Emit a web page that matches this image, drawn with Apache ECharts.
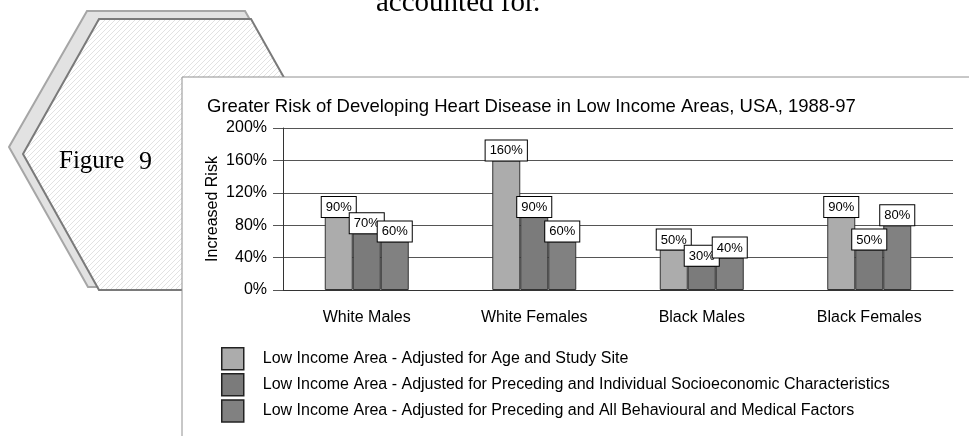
<!DOCTYPE html>
<html>
<head>
<meta charset="utf-8">
<script src="https://cdn.jsdelivr.net/npm/echarts@6/dist/echarts.min.js"></script>
<style>
  html, body { margin: 0; padding: 0; background: #fff; }
  #chart { width: 969px; height: 436px; }
</style>
</head>
<body>
<div id="chart"></div>
<script>
// categories on the x axis
const categories = ['White Males', 'White Females', 'Black Males', 'Black Females'];
// legend / series names
const seriesNames = [
  'Low Income Area - Adjusted for Age and Study Site',
  'Low Income Area - Adjusted for Preceding and Individual Socioeconomic Characteristics',
  'Low Income Area - Adjusted for Preceding and All Behavioural and Medical Factors'
];
// increased risk, percent
const ageStudySite = [90, 160, 50, 90];
const socioeconomic = [70, 90, 30, 50];
const behavioural = [60, 60, 40, 80];
// y axis range
const yMin = 0, yMax = 200, yStep = 40;

const colors = ['#acacac', '#7b7b7b', '#818181'];

// diagonal hatch for the hexagon
const hatch = document.createElement('canvas');
hatch.width = 5; hatch.height = 5;
const hc = hatch.getContext('2d');
hc.fillStyle = '#fff';
hc.fillRect(0, 0, 5, 5);
hc.strokeStyle = '#dadada';
hc.lineWidth = 0.8;
hc.beginPath();
hc.moveTo(-1, 6); hc.lineTo(6, -1);
hc.moveTo(-1, 1); hc.lineTo(1, -1);
hc.moveTo(4, 6); hc.lineTo(6, 4);
hc.stroke();

const chart = echarts.init(document.getElementById('chart'), null, { renderer: 'canvas' });

const labelStyle = {
  show: true,
  position: 'top',
  distance: 0,
  formatter: '{c}%',
  color: '#000',
  fontSize: 13,
  fontFamily: 'Liberation Sans, Arial, sans-serif',
  backgroundColor: '#fff',
  borderColor: '#000',
  borderWidth: 1,
  padding: [4, 4, 3, 4]
};

function makeSeries(name, data, color) {
  return {
    name: name,
    type: 'bar',
    data: data,
    barWidth: 28,
    barGap: '0%',
    itemStyle: { color: color, borderColor: '#333', borderWidth: 1 },
    label: labelStyle,
    emphasis: { disabled: true }
  };
}

const option = {
  animation: false,
  backgroundColor: '#fff',
  textStyle: { fontFamily: 'Liberation Sans, Arial, sans-serif' },
  title: {
    text: 'Greater Risk of Developing Heart Disease in Low Income Areas, USA, 1988-97',
    left: 207,
    top: 97,
    padding: 0,
    textStyle: { fontSize: 18.5, fontWeight: 'normal', color: '#000' }
  },
  graphic: [
    { // shadow hexagon
      type: 'polygon', z: -30,
      shape: { points: [[87, 11], [245, 11], [323, 147], [245, 287], [88, 287], [9, 147]] },
      style: { fill: '#e2e2e2', stroke: '#a6a6a6', lineWidth: 2 }
    },
    { // front hexagon
      type: 'polygon', z: -29,
      shape: { points: [[99, 19], [251, 19], [327, 154], [251, 290], [99, 290], [23, 154]] },
      style: { fill: { image: hatch, repeat: 'repeat' }, stroke: '#7a7a7a', lineWidth: 2 }
    },
    {
      type: 'text', z: -28, left: 59, top: 149,
      style: { text: 'Figure', font: '25px "Liberation Serif", serif', fill: '#000' }
    },
    {
      type: 'text', z: -28, left: 139, top: 149,
      style: { text: '9', font: '26px "Liberation Serif", serif', fill: '#000' }
    },
    {
      type: 'text', z: -28, left: 376, top: -11,
      style: { text: 'accounted for.', font: '29px "Liberation Serif", serif', fill: '#000' }
    },
    { // chart panel
      type: 'rect', z: -20,
      shape: { x: 182, y: 77, width: 820, height: 400 },
      style: { fill: '#fff', stroke: '#909090', lineWidth: 1 }
    }
  ],
  legend: {
    orient: 'vertical',
    left: 221,
    top: 347,
    padding: 0,
    itemWidth: 22,
    itemHeight: 22,
    itemGap: 2.6,
    icon: 'rect',
    selectedMode: false,
    data: seriesNames,
    itemStyle: { borderColor: '#222', borderWidth: 1.5 },
    textStyle: { fontSize: 16, lineHeight: 18, color: '#000', padding: [0, 0, 0, 14] }
  },
  grid: { left: 283, right: 16, top: 128, bottom: 146, containLabel: false },
  xAxis: {
    type: 'category',
    data: categories,
    axisLine: { lineStyle: { color: '#333' } },
    axisTick: { alignWithLabel: true, length: 10, lineStyle: { color: '#333' } },
    axisLabel: { fontSize: 16, color: '#000', margin: 20 },
    splitLine: { show: false }
  },
  yAxis: {
    type: 'value',
    min: yMin,
    max: yMax,
    interval: yStep,
    name: 'Increased Risk',
    nameLocation: 'middle',
    nameGap: 62,
    nameMoveOverlap: false,
    nameRotate: 90,
    nameTextStyle: { fontSize: 16, color: '#000' },
    axisLine: { show: true, lineStyle: { color: '#333' } },
    axisTick: { show: true, length: 10, lineStyle: { color: '#555' } },
    axisLabel: { formatter: '{value}%', fontSize: 16, color: '#000', margin: 16 },
    splitLine: { show: true, lineStyle: { color: '#555', width: 1 } }
  },
  series: [
    makeSeries(seriesNames[0], ageStudySite, colors[0]),
    makeSeries(seriesNames[1], socioeconomic, colors[1]),
    makeSeries(seriesNames[2], behavioural, colors[2])
  ]
};

chart.setOption(option);
</script>
</body>
</html>
